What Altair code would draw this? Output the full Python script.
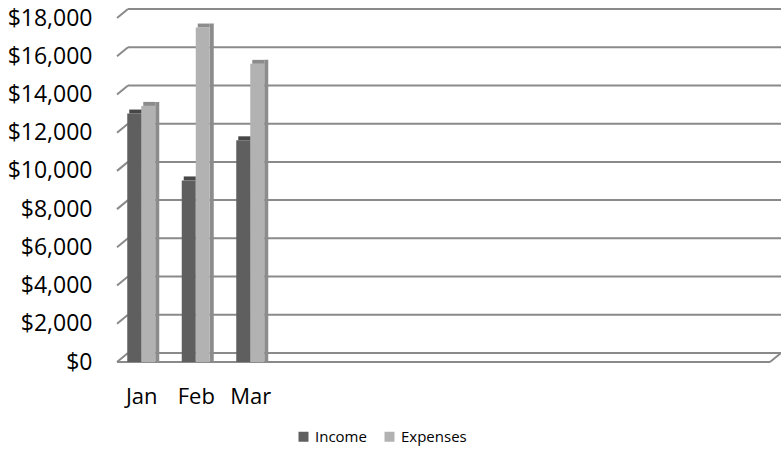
import json
import altair as alt
import pandas as pd

months = ["Jan", "Feb", "Mar"]
income = [13000, 9500, 11600]
expenses = [13400, 17500, 15600]
series = ["Income", "Expenses"]
y_ticks = list(range(0, 18001, 2000))
n_slots = 12

rows = []
for i, m in enumerate(months):
    for s, vals in enumerate([income, expenses]):
        rows.append({"month": m, "mi": i, "series": series[s], "si": s, "value": vals[i]})
df = pd.DataFrame(rows)
grid = pd.DataFrame({"tick": y_ticks})

W, H = 654, 344
BAR = 14 / 54.5
DY = -9
GRID = "#8a8a8a"
FONT = "Open Sans"
FRONT_COLORS = ["#5f5f5f", "#b2b2b2"]
SIDE_COLORS = ["#474747", "#8c8c8c"]

xs = alt.Scale(domain=[0, n_slots], nice=False, zero=False)
ys = alt.Scale(domain=[0, 18000], nice=False)

xaxis = alt.Axis(
    values=[i + 0.5 for i in range(len(months))],
    labelExpr=f"{json.dumps(months)}[floor(datum.value)]",
    labelFont=FONT, labelFontSize=22, labelColor="#000000",
    labelPadding=24, ticks=False, tickSize=0, domain=False, grid=False, title=None,
)
yaxis = alt.Axis(
    values=y_ticks, format="$,.0f", labelOverlap=False,
    labelFont=FONT, labelFontSize=23, labelColor="#000000",
    labelPadding=22, ticks=False, tickSize=0, domain=False, grid=False, title=None,
)

base = alt.Chart(df).transform_calculate(
    x0=f"datum.mi + 0.5 - {BAR} + datum.si * {BAR}",
    x1=f"datum.mi + 0.5 + datum.si * {BAR}",
)

# 3D side and top faces, one layer per series
faces = []
for s, col in zip(series, SIDE_COLORS):
    sub = base.transform_filter(alt.datum.series == s)
    side = sub.mark_rule(color=col, strokeWidth=4, xOffset=2, yOffset=-4).encode(
        x=alt.X("x1:Q", scale=xs, axis=xaxis),
        y=alt.Y("value:Q", scale=ys, axis=yaxis),
        y2=alt.datum(0),
    )
    top = sub.mark_rule(color=col, strokeWidth=4, xOffset=2, yOffset=-2).encode(
        x=alt.X("x0:Q", scale=xs, axis=xaxis),
        x2="x1:Q",
        y=alt.Y("value:Q", scale=ys, axis=yaxis),
    )
    faces += [side, top]

front = base.mark_bar().encode(
    x=alt.X("x0:Q", scale=xs, axis=xaxis),
    x2="x1:Q",
    y=alt.Y("value:Q", scale=ys, axis=yaxis),
    y2=alt.datum(0),
    color=alt.Color(
        "series:N",
        scale=alt.Scale(domain=series, range=FRONT_COLORS),
        legend=alt.Legend(
            orient="none", legendX=182, legendY=411, direction="horizontal", title=None,
            symbolType="square", symbolSize=100,
            labelFont=FONT, labelFontSize=15, labelColor="#000000",
            columnPadding=15, labelOffset=4,
        ),
    ),
)

back_grid = alt.Chart(grid).mark_rule(color=GRID, strokeWidth=2, yOffset=DY).encode(
    y=alt.Y("tick:Q", scale=ys, axis=yaxis), x=alt.value(14), x2=alt.value(W + 13)
)
diag = alt.Chart(grid).mark_rule(color=GRID, strokeWidth=2, yOffset=DY).encode(
    y=alt.Y("tick:Q", scale=ys, axis=yaxis), y2="tick:Q", x=alt.value(14), x2=alt.value(3)
)
floor = alt.Chart(grid).transform_filter("datum.tick == 0")
floor_front = floor.mark_rule(color=GRID, strokeWidth=2).encode(
    y=alt.Y("tick:Q", scale=ys, axis=yaxis), x=alt.value(3), x2=alt.value(W + 2)
)
floor_right = floor.mark_rule(color=GRID, strokeWidth=2, yOffset=DY).encode(
    y=alt.Y("tick:Q", scale=ys, axis=yaxis), y2="tick:Q", x=alt.value(W + 13), x2=alt.value(W + 2)
)

chart = alt.layer(back_grid, diag, floor_front, floor_right, *faces, front).properties(
    width=W, height=H,
    autosize=alt.AutoSizeParams(type="none"),
    padding={"left": 114, "top": 18, "right": 13, "bottom": 88},
    background="#ffffff",
).configure_view(stroke=None)

chart.save("out.html", embed_options={"renderer": "svg", "actions": False})
